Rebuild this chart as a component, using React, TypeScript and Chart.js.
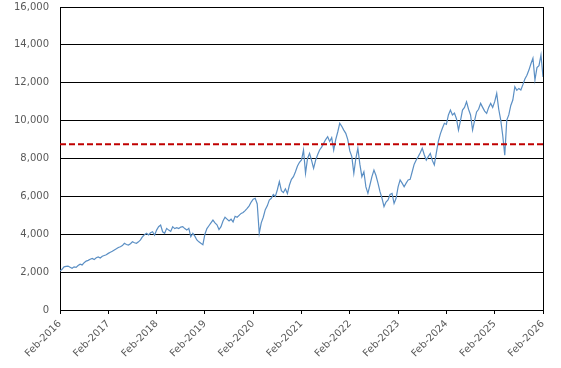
import React, { useEffect, useRef } from "react";
import { Chart, registerables } from "chart.js";

Chart.register(...registerables);

// Semi-monthly readings, Feb of each year through Jan of the next
const v2016 = [2050, 2150, 2280, 2300, 2320, 2260, 2200, 2280, 2250, 2350, 2420, 2380, 2500, 2580, 2620, 2680, 2720, 2660, 2760, 2800, 2750, 2840, 2880, 2920];
const v2017 = [2990, 3050, 3100, 3170, 3230, 3300, 3340, 3400, 3520, 3460, 3430, 3500, 3600, 3550, 3520, 3600, 3700, 3870, 3980, 4050, 3960, 4080, 4130, 3950];
const v2018 = [4220, 4400, 4490, 4130, 4050, 4310, 4220, 4150, 4400, 4300, 4350, 4300, 4380, 4400, 4300, 4220, 4310, 3870, 4050, 3900, 3700, 3600, 3520, 3450];
const v2019 = [4000, 4300, 4450, 4600, 4750, 4600, 4500, 4250, 4400, 4700, 4900, 4800, 4700, 4800, 4650, 4950, 4900, 5000, 5100, 5150, 5250, 5370, 5500, 5700];
const v2020 = [5850, 5900, 5600, 4050, 4600, 4900, 5300, 5500, 5800, 5900, 6100, 6000, 6350, 6780, 6300, 6200, 6400, 6150, 6600, 6900, 7040, 7300, 7600, 7800];
const v2021 = [7920, 8450, 7220, 8000, 8270, 7900, 7480, 7900, 8200, 8450, 8600, 8800, 9000, 9150, 8900, 9100, 8450, 9000, 9400, 9860, 9700, 9500, 9330, 9000];
const v2022 = [8400, 8100, 7220, 8000, 8540, 7700, 7040, 7300, 6500, 6160, 6600, 7040, 7390, 7100, 6700, 6250, 5900, 5460, 5700, 5810, 6100, 6160, 5630, 5900];
const v2023 = [6500, 6870, 6700, 6510, 6700, 6870, 6900, 7300, 7700, 7920, 8100, 8300, 8540, 8200, 7920, 8100, 8270, 7900, 7660, 8300, 8900, 9300, 9600, 9860];
const v2024 = [9800, 10300, 10560, 10300, 10400, 10100, 9500, 10000, 10560, 10700, 11000, 10600, 10300, 9500, 10000, 10460, 10600, 10910, 10700, 10500, 10380, 10700, 10910, 10700];
const v2025 = [11000, 11440, 10600, 10030, 9200, 8180, 10030, 10300, 10800, 11090, 11790, 11600, 11700, 11620, 11900, 12200, 12400, 12670, 13000, 13290, 12140, 12800, 12900, 13460];
const vFinal = [12300];

const tickYears = ["2016", "2017", "2018", "2019", "2020", "2021", "2022", "2023", "2024", "2025", "2026"];
const refLevel = 8750;

const series = [...v2016, ...v2017, ...v2018, ...v2019, ...v2020, ...v2021, ...v2022, ...v2023, ...v2024, ...v2025, ...vFinal];

const FONT = "'DejaVu Sans', sans-serif";

export default function App() {
  const ref = useRef<HTMLCanvasElement | null>(null);
  useEffect(() => {
    if (!ref.current) return;
    const pts = series.map((v, i) => ({ x: i / 2, y: v }));
    const lastX = (series.length - 1) / 2;
    const borderPlugin = {
      id: "rightBorder",
      afterDatasetsDraw(chart: any) {
        const { ctx, chartArea } = chart;
        ctx.save();
        ctx.strokeStyle = "#000";
        ctx.lineWidth = 1;
        const x = Math.round(chartArea.right) + 0.5;
        ctx.beginPath();
        ctx.moveTo(x, chartArea.top);
        ctx.lineTo(x, chartArea.bottom);
        ctx.stroke();
        ctx.restore();
      },
    };
    const chart = new Chart(ref.current, {
      type: "line",
      data: {
        datasets: [
          {
            data: [
              { x: 0, y: refLevel },
              { x: lastX, y: refLevel },
            ],
            borderColor: "#C00000",
            borderWidth: 2,
            borderDash: [6, 3],
            pointRadius: 0,
          },
          {
            data: pts,
            borderColor: "#5B8FC4",
            borderWidth: 1.2,
            pointRadius: 0,
            tension: 0,
          },
        ],
      },
      options: {
        animation: false,
        responsive: false,
        maintainAspectRatio: false,
        layout: { padding: { left: 0, top: 7, right: 18, bottom: 0 } },
        plugins: { legend: { display: false }, tooltip: { enabled: false } },
        scales: {
          x: {
            type: "linear",
            min: 0,
            max: 120,
            afterFit: (s: any) => {
              s.height = 58;
            },
            afterBuildTicks: (s: any) => {
              s.ticks = tickYears.map((_, i) => ({ value: i * 12 }));
            },
            ticks: {
              autoSkip: false,
              maxRotation: 45,
              minRotation: 45,
              padding: 4,
              color: "#595959",
              font: { family: FONT, size: 10 },
              callback: (v: any) => {
                const idx = Math.round(Number(v) / 12);
                return "Feb-" + tickYears[idx];
              },
            },
            grid: {
              display: true,
              drawOnChartArea: false,
              drawTicks: true,
              tickLength: 4,
              color: "#000",
              lineWidth: 1,
            },
            border: { display: true, color: "#000", width: 1 },
          },
          y: {
            min: 0,
            max: 16000,
            afterFit: (s: any) => {
              s.width = 60;
            },
            ticks: {
              stepSize: 2000,
              padding: 0,
              color: "#595959",
              font: { family: FONT, size: 10 },
              callback: (v: any) => Number(v).toLocaleString("en-US"),
            },
            grid: {
              color: "#000",
              lineWidth: 1,
              drawTicks: true,
              tickLength: 11,
              tickColor: "rgba(0,0,0,0)",
            },
            border: { display: true, color: "#000", width: 1 },
          },
        },
      },
      plugins: [borderPlugin],
    });
    return () => chart.destroy();
  }, []);
  return (
    <div style={{ position: "fixed", left: 0, top: 0, width: 561, height: 368, background: "#fff" }}>
      <canvas ref={ref} width={561} height={368} style={{ width: 561, height: 368, display: "block" }} />
    </div>
  );
}
